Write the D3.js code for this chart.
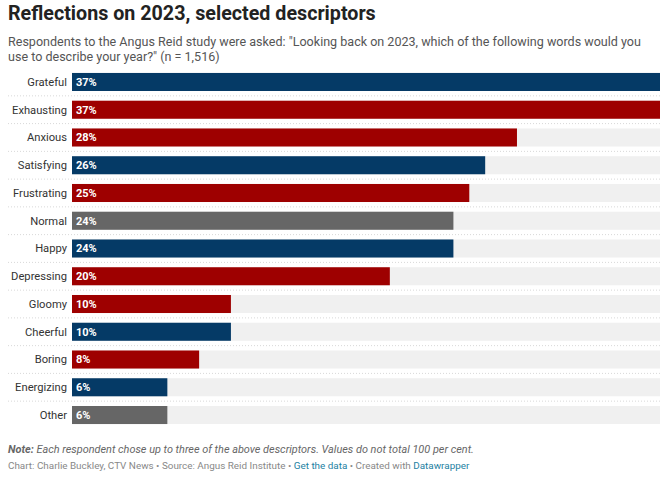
<!DOCTYPE html>
<html><head><meta charset="utf-8">
<script src="https://cdn.jsdelivr.net/npm/d3@7"></script>
<style>
body{margin:0;background:#fff;font-family:Roboto,"Noto Sans",sans-serif;}
svg{display:block}
</style></head>
<body>
<svg id="c" width="660" height="480"></svg>
<script>
const categories = ["Grateful","Exhausting","Anxious","Satisfying","Frustrating","Normal","Happy","Depressing","Gloomy","Cheerful","Boring","Energizing","Other"];
const values = [37,37,28,26,25,24,24,20,10,10,8,6,6];
const tones = ["positive","negative","negative","positive","negative","neutral","positive","negative","negative","positive","negative","positive","neutral"];
const toneColors = {positive:"#053a66", negative:"#9e0000", neutral:"#666666"};

const svg = d3.select("#c");
const plotLeft = 72, plotRight = 660, plotTop = 73, plotBottom = 424;

svg.append("text").attr("x",8).attr("y",20).attr("font-size",19.7).attr("font-weight",700).attr("fill","#222")
  .text("Reflections on 2023, selected descriptors");
svg.append("text").attr("x",8).attr("y",46).attr("font-size",12.55).attr("fill","#555")
  .text('Respondents to the Angus Reid study were asked: "Looking back on 2023, which of the following words would you');
svg.append("text").attr("x",8).attr("y",61).attr("font-size",12.55).attr("fill","#555")
  .text('use to describe your year?" (n = 1,516)');

const x = d3.scaleLinear().domain([0, d3.max(values)]).range([plotLeft, plotRight]);
const y = d3.scaleBand().domain(categories).range([plotTop - 4.9, plotBottom + 4.9]).paddingInner(0.35).paddingOuter(0.175);

svg.append("g").selectAll("line").data(categories.slice(1)).join("line")
  .attr("x1",8).attr("x2",660)
  .attr("y1",d=>y(d) - y.step()*y.paddingInner()/2).attr("y2",d=>y(d) - y.step()*y.paddingInner()/2)
  .attr("stroke","#d8d8d8").attr("stroke-width",1).attr("stroke-dasharray","1,2");

const rows = svg.append("g").selectAll("g").data(categories).join("g");
rows.append("rect").attr("x",x(0)).attr("y",d=>y(d)).attr("width",x(d3.max(values))-x(0)).attr("height",y.bandwidth()).attr("fill","#f0f0f0");
rows.append("rect").attr("x",x(0)).attr("y",d=>y(d)).attr("width",(d,i)=>x(values[i])-x(0)).attr("height",y.bandwidth())
  .attr("fill",(d,i)=>toneColors[tones[i]]);
rows.append("text").attr("x",plotLeft-5).attr("y",d=>y(d)+y.bandwidth()/2).attr("dy","0.35em").attr("text-anchor","end")
  .attr("font-size",11.2).attr("fill","#333").text(d=>d);
rows.append("text").attr("x",plotLeft+4).attr("y",d=>y(d)+y.bandwidth()/2).attr("dy","0.35em")
  .attr("font-size",11).attr("font-weight",700).attr("fill","#fff").text((d,i)=>values[i]+"%");

const note = svg.append("text").attr("x",8).attr("y",453).attr("font-size",10.9).attr("font-style","italic").attr("fill","#666");
note.append("tspan").attr("font-weight",700).text("Note: ");
note.append("tspan").text(" Each respondent chose up to three of the above descriptors. Values do not total 100 per cent.");
const cr = svg.append("text").attr("x",8).attr("y",469).attr("font-size",9.9).attr("fill","#888");
cr.append("tspan").text("Chart: Charlie Buckley, CTV News • Source: Angus Reid Institute • ");
cr.append("tspan").attr("fill","#1d81a2").text("Get the data");
cr.append("tspan").text(" • Created with ");
cr.append("tspan").attr("fill","#1d81a2").text("Datawrapper");
</script>
</body></html>
